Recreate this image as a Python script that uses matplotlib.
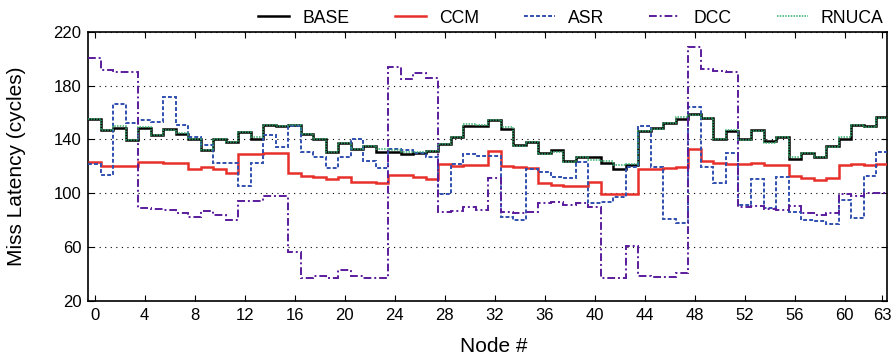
import numpy as np
import matplotlib
matplotlib.use("Agg")
import matplotlib.pyplot as plt

plt.rcParams['font.family'] = ['Liberation Sans', 'DejaVu Sans']

nodes = np.arange(64)
xticks = [0, 4, 8, 12, 16, 20, 24, 28, 32, 36, 40, 44, 48, 52, 56, 60, 63]
yticks = [20, 60, 100, 140, 180, 220]

base = [155.1, 147.4, 148.9, 139.5, 148.9, 143.5, 147.9, 144.4, 140.5, 132.1, 140, 138, 145.4, 140, 150.9, 149.9,
        150.6, 144, 140, 130.9, 137.5, 133.3, 135, 130.6, 130.6, 129.1, 130.1, 131.1, 137, 142, 149.9, 149.9,
        154.3, 147.9, 135.6, 138.3, 129.6, 132.1, 124.2, 127.2, 126.7, 122.2, 118.3, 120.7, 146.4, 148.9, 151.9, 155.1,
        158.8, 155.6, 140, 146.4, 140, 147.4, 139, 141.5, 125.2, 130.1, 126.7, 135, 140, 150.6, 149.9, 156.8]

rnuca = [155.5, 147.4, 150, 139.5, 149.5, 143.5, 147, 145, 140.5, 132.1, 140, 138.5, 145.4, 141.5, 151, 149.9,
         150.6, 144, 140, 130.9, 137.5, 133.3, 135, 133.3, 132, 130.5, 130.5, 131.8, 136.5, 142, 151.4, 150.6,
         154.3, 149.4, 135, 138.3, 129, 130.9, 123.5, 126.7, 124.9, 124.2, 121, 121.7, 146.4, 148.1, 151.9, 156.8,
         158, 156.3, 140, 147.4, 139.5, 146.4, 137.5, 141.5, 126.7, 129.6, 127.2, 134.6, 141.5, 150.6, 149.4, 156.3]

ccm = [123.5, 120.5, 120.5, 120.5, 123.5, 123.2, 122.7, 122.7, 117.8, 119.3, 117.8, 114.8, 129.1, 129.1, 129.6, 130.1,
       115.3, 112.8, 111.9, 110.4, 111.9, 108.6, 108.4, 107.9, 113.6, 113.8, 111.9, 110.4, 121.7, 120.2, 121.2, 121.2,
       131.6, 120.2, 119.3, 118.8, 107.4, 105.9, 105.4, 105.4, 108.4, 99.5, 99.5, 99.5, 117.8, 117.8, 118.5, 119.8,
       133.1, 124.2, 122.7, 121.7, 121.7, 122.2, 120.7, 121.2, 112.8, 111.1, 109.9, 111.1, 120.7, 121.7, 120.7, 121.7]

asr = [121.7, 113.6, 166.7, 151.9, 154.3, 153.1, 171.6, 150.6, 142, 135.8, 122.7, 122.7, 105.7, 122.7, 143.2, 134.6,
       149.9, 130.9, 127.2, 119, 127.2, 140, 124.2, 119, 132.6, 132.1, 129.6, 127.2, 99.5, 121.7, 129.1, 128.1,
       127.7, 82.7, 80.2, 117.8, 116, 112.3, 111.4, 123.2, 92.6, 93.8, 97.5, 119.3, 149.9, 119.8, 80.7, 78.3,
       164.2, 119.8, 107.4, 130.1, 91.4, 110.4, 88.9, 111.9, 86.4, 80.2, 79.8, 77.3, 95.1, 81.5, 112.8, 130.9]

dcc = [200.7, 191.4, 190.1, 190.1, 88.9, 88.4, 87.7, 85.2, 82.2, 87.2, 84, 80.2, 94.3, 94.3, 98.3, 98.3,
       56.3, 37, 38.3, 37, 43.2, 38.3, 37, 37, 193.8, 185.2, 189.4, 185.9, 86.4, 87.2, 90.1, 87.7,
       111.1, 86.4, 85.2, 86.4, 92.6, 93.8, 91.4, 92.6, 89.6, 37, 37, 61, 38.3, 37.8, 37.8, 40.7,
       208.6, 192.6, 190.9, 190.1, 90.1, 90.6, 88.2, 87.7, 90.9, 85.2, 84, 85.2, 99.5, 98, 100, 100]

fig = plt.figure(figsize=(8.93, 3.61), dpi=100)
ax = fig.add_axes([0.0989, 0.166, 0.8947, 0.746])

edges = np.append(nodes - 0.5, nodes[-1] + 0.5)
ax.stairs(base, edges, baseline=None, color='black', lw=1.8, label='BASE', zorder=3)
ax.stairs(ccm, edges, baseline=None, color='#e8302a', lw=1.8, label='CCM', zorder=3)
ax.stairs(asr, edges, baseline=None, color='#3050b0', lw=1.4, ls=(0, (2.0, 1.1)), label='ASR', zorder=3)
ax.stairs(dcc, edges, baseline=None, color='#5a1c9c', lw=1.4, ls=(0, (4, 1.5, 1, 1.5)), label='DCC', zorder=3)
ax.stairs(rnuca, edges, baseline=None, color='#2fae6a', lw=1.1, ls=(0, (1, 0.8)), label='RNUCA', zorder=4)

ax.set_xlim(-0.5, 63.4)
ax.set_ylim(20, 220)
ax.set_xticks(xticks)
ax.set_yticks(yticks)
ax.tick_params(direction='in', top=True, right=True, length=4, width=0.8, labelsize=12, pad=5)
ax.grid(axis='y', color='black', ls=(0, (1, 4)), lw=0.8)
for s in ax.spines.values():
    s.set_linewidth(1.2)

ax.set_xlabel('Node #', fontsize=15)
ax.set_ylabel('Miss Latency (cycles)', fontsize=15)
ax.xaxis.set_label_coords(0.508, -0.135)
ax.yaxis.set_label_coords(-0.0775, 0.5)

fig.legend(loc='center', bbox_to_anchor=(0.6394, 0.950), ncol=5, frameon=False,
           fontsize=12.7, handlelength=1.76, handletextpad=0.75, columnspacing=2.55)

fig.savefig('out.png', dpi=100)
